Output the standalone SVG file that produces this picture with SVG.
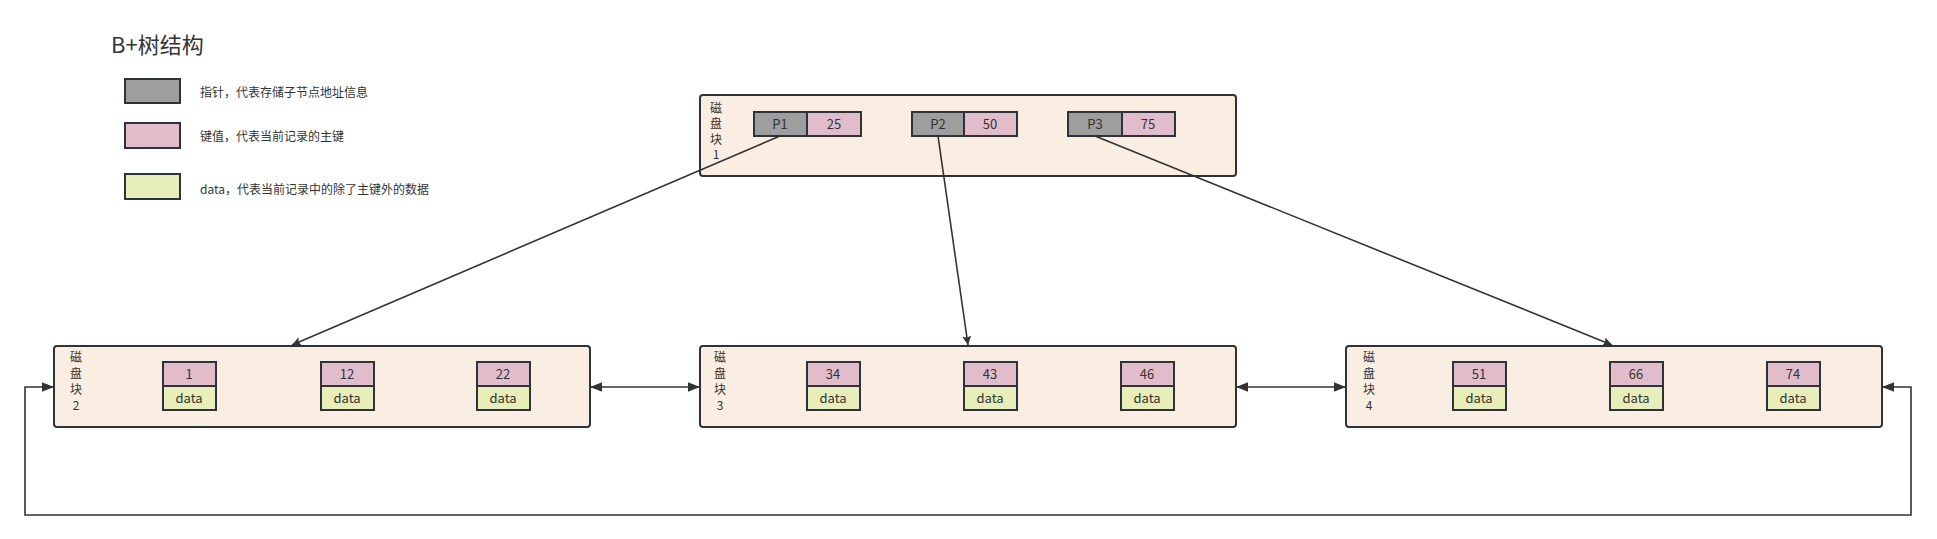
<svg xmlns="http://www.w3.org/2000/svg" width="1937" height="539" viewBox="0 0 1937 539">
<style>
text{font-family:"Noto Sans CJK SC","Noto Sans",sans-serif;fill:#333;}
.blk{fill:#FAEDE1;stroke:#2D3339;stroke-width:2;}
.ptr{fill:#9E9E9E;stroke:#2D3339;stroke-width:2;}
.key{fill:#E1BDCB;stroke:#2D3339;stroke-width:2;}
.dat{fill:#E8EEBA;stroke:#2D3339;stroke-width:2;}
.cell{font-size:13px;text-anchor:middle;}
.lbl{font-size:12px;text-anchor:middle;}
.leg{font-size:12px;}
.con{fill:none;stroke:#333;stroke-width:1.6;}
</style>
<defs>
<marker id="ah" viewBox="0 0 10 10" refX="10" refY="5" markerWidth="9" markerHeight="9" markerUnits="userSpaceOnUse" orient="auto-start-reverse">
<path d="M0,0 L10,5 L0,10 L2,5 z" fill="#333"/>
</marker>
<marker id="ah2" viewBox="0 0 10 10" refX="10" refY="5" markerWidth="12" markerHeight="12" markerUnits="userSpaceOnUse" orient="auto-start-reverse">
<path d="M0,1 L10,5 L0,9 z" fill="#333"/>
</marker>
</defs>
<rect width="1937" height="539" fill="#fff"/>

<g id="legend">
<text x="111" y="53" style="font-size:22px">B+树结构</text>
<rect class="ptr" x="125" y="79" width="55" height="24"/>
<text class="leg" x="200" y="97">指针，代表存储子节点地址信息</text>
<rect class="key" x="125" y="123" width="55" height="25"/>
<text class="leg" x="200" y="141">键值，代表当前记录的主键</text>
<rect class="dat" x="125" y="174" width="55" height="25"/>
<text class="leg" x="200" y="194">data，代表当前记录中的除了主键外的数据</text>
</g>

<g id="block1">
<rect class="blk" x="700" y="95" width="536" height="81" rx="3"/>
<text class="lbl" x="716" y="113">磁</text>
<text class="lbl" x="716" y="128">盘</text>
<text class="lbl" x="716" y="144">块</text>
<text class="lbl" x="716" y="159">1</text>
<rect class="ptr" x="754" y="112" width="53" height="24"/>
<text class="cell" x="780" y="129">P1</text>
<rect class="key" x="807" y="112" width="54" height="24"/>
<text class="cell" x="834" y="129">25</text>
<rect class="ptr" x="912" y="112" width="52" height="24"/>
<text class="cell" x="938" y="129">P2</text>
<rect class="key" x="964" y="112" width="53" height="24"/>
<text class="cell" x="990" y="129">50</text>
<rect class="ptr" x="1068" y="112" width="54" height="24"/>
<text class="cell" x="1095" y="129">P3</text>
<rect class="key" x="1122" y="112" width="53" height="24"/>
<text class="cell" x="1148" y="129">75</text>
</g>

<g id="block2">
<rect class="blk" x="54" y="346" width="536" height="81" rx="3"/>
<text class="lbl" x="76" y="362">磁</text>
<text class="lbl" x="76" y="378">盘</text>
<text class="lbl" x="76" y="394">块</text>
<text class="lbl" x="76" y="410">2</text>
<rect class="key" x="163" y="362" width="53" height="24"/>
<text class="cell" x="189" y="379">1</text>
<rect class="dat" x="163" y="386" width="53" height="24"/>
<text class="cell" x="189" y="403">data</text>
<rect class="key" x="321" y="362" width="53" height="24"/>
<text class="cell" x="347" y="379">12</text>
<rect class="dat" x="321" y="386" width="53" height="24"/>
<text class="cell" x="347" y="403">data</text>
<rect class="key" x="477" y="362" width="53" height="24"/>
<text class="cell" x="503" y="379">22</text>
<rect class="dat" x="477" y="386" width="53" height="24"/>
<text class="cell" x="503" y="403">data</text>
</g>

<g id="block3">
<rect class="blk" x="700" y="346" width="536" height="81" rx="3"/>
<text class="lbl" x="720" y="362">磁</text>
<text class="lbl" x="720" y="378">盘</text>
<text class="lbl" x="720" y="394">块</text>
<text class="lbl" x="720" y="410">3</text>
<rect class="key" x="807" y="362" width="53" height="24"/>
<text class="cell" x="833" y="379">34</text>
<rect class="dat" x="807" y="386" width="53" height="24"/>
<text class="cell" x="833" y="403">data</text>
<rect class="key" x="964" y="362" width="53" height="24"/>
<text class="cell" x="990" y="379">43</text>
<rect class="dat" x="964" y="386" width="53" height="24"/>
<text class="cell" x="990" y="403">data</text>
<rect class="key" x="1121" y="362" width="53" height="24"/>
<text class="cell" x="1147" y="379">46</text>
<rect class="dat" x="1121" y="386" width="53" height="24"/>
<text class="cell" x="1147" y="403">data</text>
</g>

<g id="block4">
<rect class="blk" x="1346" y="346" width="536" height="81" rx="3"/>
<text class="lbl" x="1369" y="362">磁</text>
<text class="lbl" x="1369" y="378">盘</text>
<text class="lbl" x="1369" y="394">块</text>
<text class="lbl" x="1369" y="410">4</text>
<rect class="key" x="1453" y="362" width="53" height="24"/>
<text class="cell" x="1479" y="379">51</text>
<rect class="dat" x="1453" y="386" width="53" height="24"/>
<text class="cell" x="1479" y="403">data</text>
<rect class="key" x="1610" y="362" width="53" height="24"/>
<text class="cell" x="1636" y="379">66</text>
<rect class="dat" x="1610" y="386" width="53" height="24"/>
<text class="cell" x="1636" y="403">data</text>
<rect class="key" x="1767" y="362" width="53" height="24"/>
<text class="cell" x="1793" y="379">74</text>
<rect class="dat" x="1767" y="386" width="53" height="24"/>
<text class="cell" x="1793" y="403">data</text>
</g>

<g id="connectors">
<line class="con" x1="780" y1="136" x2="292" y2="345" marker-end="url(#ah)"/>
<line class="con" x1="938" y1="136" x2="968" y2="345" marker-end="url(#ah)"/>
<line class="con" x1="1095" y1="136" x2="1612" y2="345" marker-end="url(#ah)"/>
<line class="con" x1="590" y1="387" x2="700" y2="387" marker-start="url(#ah2)" marker-end="url(#ah2)"/>
<line class="con" x1="1236" y1="387" x2="1346" y2="387" marker-start="url(#ah2)" marker-end="url(#ah2)"/>
<path class="con" d="M54,387 H25 V515 H1911 V387 H1882" marker-start="url(#ah2)" marker-end="url(#ah2)"/>
</g>
</svg>
